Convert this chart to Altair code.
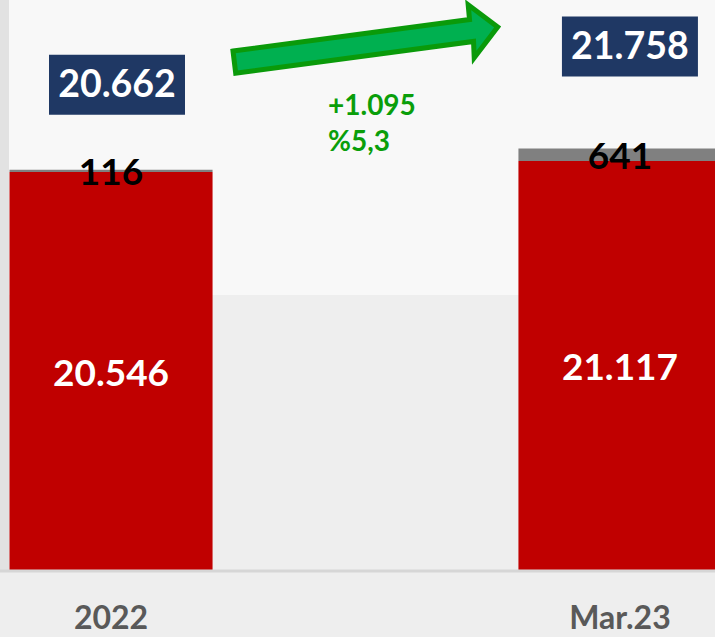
import altair as alt
import pandas as pd

# ---- data ----
categories = ["2022", "Mar.23"]
main_values = [20546, 21117]
other_values = [116, 641]
totals = [20662, 21758]
change_abs = ["+1.095"]
change_pct = ["%5,3"]

df = pd.DataFrame({
    "cat": categories,
    "main": main_values,
    "other": other_values,
    "total": totals,
})

FONT = "Lato"
RED = "#c00000"
GREY = "#808080"
NAVY = "#1f3864"
GREEN_TXT = "#0a9e0a"

xscale = alt.Scale(domain=categories, range=[9.5, 721.5], paddingInner=0.601, paddingOuter=0)
X = alt.X("cat:N", sort=categories, scale=xscale,
          axis=alt.Axis(title=None, labelAngle=0, domain=False, ticks=False, tickSize=0,
                        grid=False, labelFont=FONT, labelFontSize=32, labelFontWeight="bold",
                        labelColor="#595959", labelPadding=48, labelBaseline="middle"))
yscale = alt.Scale(domain=[0, 29427], nice=False, zero=True)

base = alt.Chart(df)

# background decorations
one = pd.DataFrame({"a": [0]})
bg_top = alt.Chart(one).mark_rect(color="#f8f8f8").encode(
    x=alt.value(0), x2=alt.value(715), y=alt.value(0), y2=alt.value(295))
bg_left = alt.Chart(one).mark_rect(color="#e2e2e2").encode(
    x=alt.value(0), x2=alt.value(9), y=alt.value(0), y2=alt.value(570))

red_bar = base.mark_bar(color=RED, clip=True).encode(
    x=X, y=alt.Y("main:Q", scale=yscale, axis=None))
grey_bar = base.mark_bar(color=GREY, clip=True).encode(
    x=X, y=alt.Y("total:Q", scale=yscale, axis=None), y2="main:Q")

baseline = alt.Chart(one).mark_rule(color="#d6d6d6", strokeWidth=3).encode(
    x=alt.value(0), x2=alt.value(715), y=alt.value(571))

fmt = "replace(format(datum.{f}, ','), ',', '.')"

red_lbl = base.transform_calculate(
    lbl=fmt.format(f="main"), ypos="datum.main / 2"
).mark_text(font=FONT, fontSize=37, fontWeight="bold", color="white", baseline="middle", dy=4).encode(
    x=X, y=alt.Y("ypos:Q", scale=yscale, axis=None), text="lbl:N")

grey_lbl = base.transform_calculate(
    lbl=fmt.format(f="other"), ypos="datum.main + datum.other / 2"
).mark_text(font=FONT, fontSize=37, fontWeight="bold", color="black", baseline="middle", dy=3).encode(
    x=X, y=alt.Y("ypos:Q", scale=yscale, axis=None), text="lbl:N")

# total boxes (offsets from band start per category are styling)
box_offsets = {"2022": (107.5, -85), "Mar.23": (111.5, -102)}
box_path = "M-1,-0.441L1,-0.441L1,0.441L-1,0.441Z"
box_layers = []
for c in categories:
    dx, dy = box_offsets[c]
    sub = base.transform_filter(alt.datum.cat == c)
    box_layers.append(sub.mark_point(shape=box_path, size=136 * 136, filled=True,
                                     fill=NAVY, opacity=1, strokeWidth=0).encode(
        x=X, y=alt.Y("total:Q", scale=yscale, axis=None),
        xOffset=alt.value(dx), yOffset=alt.value(dy)))
    box_layers.append(sub.transform_calculate(lbl=fmt.format(f="total")).mark_text(
        font=FONT, fontSize=37.5, fontWeight="bold", color="white", baseline="middle").encode(
        x=X, y=alt.Y("total:Q", scale=yscale, axis=None), text="lbl:N",
        xOffset=alt.value(dx), yOffset=alt.value(dy + 1)))

# arrow decoration
arrow_path = ("M-0.985,0.09L0.78,-0.145L0.77,-0.255L0.99,-0.09L0.815,0.14"
              "L0.81,0.018L-0.965,0.255Z")
arrow = alt.Chart(one).mark_point(shape=arrow_path, size=268 * 268, filled=True,
                                  fill="#00b050", stroke="#0a9a0a", strokeWidth=5,
                                  opacity=1, strokeJoin="miter").encode(
    x=alt.value(365), y=alt.value(39))

chg1 = alt.Chart(pd.DataFrame({"t": change_abs})).mark_text(
    font=FONT, fontSize=28, fontWeight="bold", color=GREEN_TXT, align="left", baseline="middle"
).encode(x=alt.value(328), y=alt.value(107), text="t:N")
chg2 = alt.Chart(pd.DataFrame({"t": change_pct})).mark_text(
    font=FONT, fontSize=28, fontWeight="bold", color=GREEN_TXT, align="left", baseline="middle"
).encode(x=alt.value(328), y=alt.value(143), text="t:N")

chart = alt.layer(
    bg_top, bg_left, red_bar, grey_bar, baseline, red_lbl, grey_lbl,
    *box_layers, arrow, chg1, chg2
).properties(
    width=715, height=570,
    autosize=alt.AutoSizeParams(type="none"),
    padding={"left": 0, "top": 0, "right": 0, "bottom": 67},
    background="#eeeeee",
).configure_view(stroke=None)

chart.save("out.html", embed_options={"renderer": "svg", "actions": False})
